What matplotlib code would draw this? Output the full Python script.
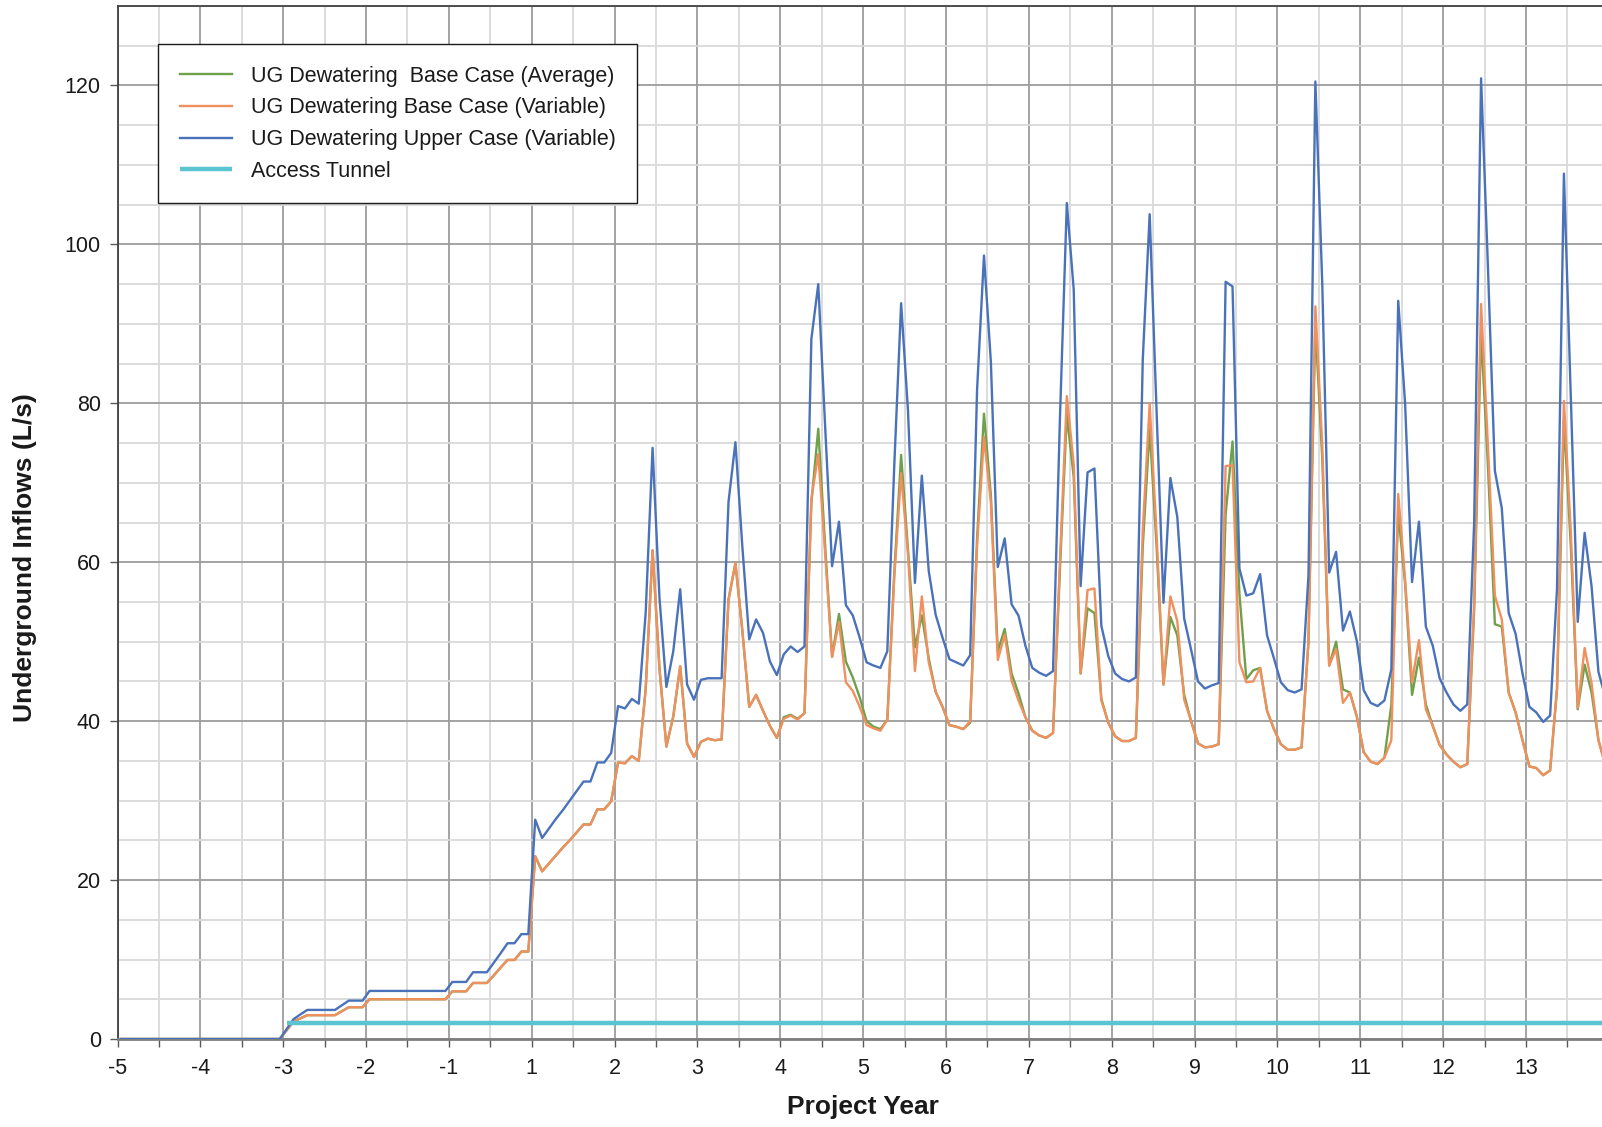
import numpy as np
import matplotlib
matplotlib.use("Agg")
import matplotlib.pyplot as plt
from matplotlib.ticker import MultipleLocator, FixedLocator

plt.rcParams['font.family'] = ['Liberation Sans', 'DejaVu Sans']

# ---- data (monthly values, month 0 = start of project year -5) ----
year_labels = ["-5", "-4", "-3", "-2", "-1", "1", "2", "3", "4", "5", "6",
               "7", "8", "9", "10", "11", "12", "13"]

upper_case = [
    0, 0, 0, 0, 0, 0, 0, 0, 0, 0, 0, 0,
    0, 0, 0, 0, 0, 0, 0, 0, 0, 0, 0, 0,
    1.25, 2.5, 3.1, 3.66, 3.66, 3.66, 3.66, 3.66, 4.25, 4.83, 4.83, 4.83,
    6.05, 6.05, 6.05, 6.05, 6.05, 6.05, 6.05, 6.05, 6.05, 6.05, 6.05, 6.05,
    7.18, 7.18, 7.18, 8.4, 8.4, 8.4, 9.6, 10.8, 12.05, 12.05, 13.2, 13.2,
    27.6, 25.3, 26.5, 27.7, 28.8, 30.0, 31.2, 32.4, 32.4, 34.8, 34.8, 36.0,
    41.9, 41.6, 42.8, 42.2, 53.6, 74.4, 55.5, 44.3, 48.8, 56.6, 44.6, 42.7,
    45.2, 45.4, 45.4, 45.4, 67.6, 75.1, 62.0, 50.3, 52.8, 51.1, 47.5, 45.8,
    48.4, 49.4, 48.7, 49.4, 88.1, 95.0, 77.0, 59.5, 65.1, 54.6, 53.3, 50.5,
    47.4, 47.0, 46.7, 48.8, 72.0, 92.6, 79.0, 57.4, 70.9, 58.9, 53.4, 50.5,
    47.8, 47.4, 47.0, 48.3, 81.7, 98.6, 85.2, 59.4, 63.0, 54.7, 53.3, 49.5,
    46.7, 46.1, 45.7, 46.3, 78.0, 105.2, 94.3, 57.0, 71.3, 71.8, 52.0, 48.2,
    46.0, 45.3, 45.0, 45.5, 85.5, 103.8, 79.0, 54.9, 70.6, 65.7, 52.9, 49.0,
    45.0, 44.1, 44.5, 44.8, 95.3, 94.7, 59.2, 55.8, 56.1, 58.5, 50.8, 47.9,
    44.9, 43.9, 43.6, 44.0, 58.3, 120.5, 95.0, 58.7, 61.3, 51.4, 53.8, 50.1,
    43.9, 42.3, 41.9, 42.6, 46.5, 92.9, 79.9, 57.5, 65.1, 51.9, 49.5, 45.4,
    43.6, 42.1, 41.3, 42.1, 65.0, 120.9, 97.0, 71.5, 66.8, 53.6, 51.0, 46.0,
    41.8, 41.1, 39.9, 40.7, 56.7, 108.9, 80.5, 52.5, 63.7, 57.0, 46.2, 43.0,
]

base_variable = [
    0, 0, 0, 0, 0, 0, 0, 0, 0, 0, 0, 0,
    0, 0, 0, 0, 0, 0, 0, 0, 0, 0, 0, 0,
    1.1, 2.2, 2.6, 3.0, 3.0, 3.0, 3.0, 3.0, 3.5, 4.0, 4.0, 4.0,
    5.0, 5.0, 5.0, 5.0, 5.0, 5.0, 5.0, 5.0, 5.0, 5.0, 5.0, 5.0,
    6.0, 6.0, 6.0, 7.05, 7.05, 7.05, 8.0, 9.0, 9.95, 9.95, 11.0, 11.0,
    23.0, 21.1, 22.1, 23.1, 24.1, 25.0, 26.0, 27.0, 27.0, 28.9, 28.9, 29.9,
    34.8, 34.7, 35.6, 35.0, 44.0, 61.5, 46.6, 36.8, 40.6, 46.9, 37.2, 35.5,
    37.4, 37.8, 37.6, 37.7, 55.3, 59.9, 51.4, 41.8, 43.3, 41.3, 39.4, 37.9,
    40.3, 40.7, 40.2, 41.0, 68.0, 73.6, 61.0, 48.1, 52.5, 44.9, 43.8, 41.8,
    39.5, 39.1, 38.8, 40.2, 58.0, 71.2, 60.9, 46.3, 55.7, 47.4, 43.7, 41.8,
    39.5, 39.3, 39.0, 40.0, 62.0, 75.8, 67.5, 47.7, 50.9, 45.1, 42.6, 40.5,
    38.8, 38.2, 37.9, 38.5, 60.0, 80.9, 72.3, 46.0, 56.5, 56.7, 42.6, 39.8,
    38.1, 37.5, 37.5, 37.9, 64.0, 79.9, 63.5, 44.6, 55.7, 52.6, 42.7, 40.0,
    37.2, 36.7, 36.8, 37.1, 72.1, 72.2, 47.4, 44.9, 45.0, 46.7, 41.3, 39.0,
    37.1, 36.4, 36.4, 36.7, 50.0, 92.2, 74.7, 47.0, 49.1, 42.3, 43.6, 40.6,
    36.1, 34.9, 34.6, 35.4, 37.6, 68.6, 57.8, 44.9, 50.2, 41.5, 39.4, 37.0,
    35.8, 34.9, 34.2, 34.6, 54.9, 92.5, 74.5, 55.8, 52.8, 43.6, 41.1, 37.6,
    34.3, 34.1, 33.2, 33.8, 44.2, 80.3, 63.8, 41.7, 49.2, 44.8, 37.6, 34.5,
]

base_average = [
    0, 0, 0, 0, 0, 0, 0, 0, 0, 0, 0, 0,
    0, 0, 0, 0, 0, 0, 0, 0, 0, 0, 0, 0,
    1.1, 2.2, 2.6, 3.0, 3.0, 3.0, 3.0, 3.0, 3.5, 4.0, 4.0, 4.0,
    5.0, 5.0, 5.0, 5.0, 5.0, 5.0, 5.0, 5.0, 5.0, 5.0, 5.0, 5.0,
    6.0, 6.0, 6.0, 7.05, 7.05, 7.05, 8.0, 9.0, 9.95, 9.95, 11.0, 11.0,
    23.0, 21.1, 22.1, 23.1, 24.1, 25.0, 26.0, 27.0, 27.0, 28.9, 28.9, 29.9,
    34.8, 34.7, 35.6, 35.0, 44.0, 61.5, 46.6, 36.8, 40.6, 46.9, 37.2, 35.5,
    37.4, 37.8, 37.6, 37.7, 55.3, 59.9, 51.4, 41.8, 43.3, 41.3, 39.4, 37.9,
    40.5, 40.8, 40.3, 41.0, 67.5, 76.8, 62.0, 48.1, 53.5, 47.5, 45.5, 43.0,
    40.0, 39.3, 39.0, 40.2, 58.5, 73.5, 61.5, 49.3, 53.3, 47.9, 43.7, 41.8,
    39.5, 39.3, 39.0, 39.8, 63.0, 78.7, 68.4, 48.8, 51.6, 46.0, 43.5, 40.5,
    38.8, 38.2, 37.9, 38.5, 59.0, 78.6, 70.7, 46.0, 54.2, 53.6, 42.8, 39.8,
    38.1, 37.5, 37.5, 37.9, 62.0, 76.8, 62.0, 44.6, 53.1, 50.8, 43.3, 40.0,
    37.2, 36.7, 36.8, 37.1, 66.0, 75.2, 56.0, 45.3, 46.4, 46.7, 41.3, 39.0,
    37.1, 36.4, 36.4, 36.7, 50.0, 90.0, 73.0, 47.0, 50.0, 44.0, 43.6, 40.6,
    36.1, 34.9, 34.6, 35.4, 42.0, 66.2, 57.3, 43.3, 48.0, 42.1, 39.4, 37.0,
    35.8, 34.9, 34.2, 34.6, 54.0, 89.0, 72.0, 52.2, 51.9, 43.6, 41.1, 37.6,
    34.3, 34.1, 33.2, 33.8, 44.0, 78.0, 62.0, 41.5, 47.1, 43.6, 37.6, 34.5,
]

tunnel_start_month = 24
tunnel_value = 2.0

# ---- plotting ----
W, H = 1602, 1127
fig = plt.figure(figsize=(W / 100, H / 100), dpi=100)
ax_left, ax_right = 117.5, 1602.0
ax_top, ax_bot = 6.0, 1039.0
ax = fig.add_axes([ax_left / W, 1 - ax_bot / H, (ax_right - ax_left) / W, (ax_bot - ax_top) / H])

months = np.arange(len(upper_case))
x = (months + 0.5) / 12.0
tunnel_x = x[tunnel_start_month:]
tunnel_y = [tunnel_value] * len(tunnel_x)

c_green = "#6FA04B"
c_orange = "#F0905E"
c_blue = "#4A72BA"
c_cyan = "#5BC4D0"

ax.plot(x, base_average, color=c_green, lw=1.7, label="UG Dewatering  Base Case (Average)", zorder=3)
ax.plot(x, base_variable, color=c_orange, lw=1.7, label="UG Dewatering Base Case (Variable)", zorder=4)
ax.plot(x, upper_case, color=c_blue, lw=1.7, label="UG Dewatering Upper Case (Variable)", zorder=5)
ax.plot(tunnel_x, tunnel_y, color=c_cyan, lw=3.2, label="Access Tunnel", zorder=6, solid_capstyle='butt')

ax.set_xlim(0, (ax_right - ax_left) / 82.85)
ax.set_ylim(0, 130)

ax.xaxis.set_major_locator(FixedLocator(np.arange(len(year_labels))))
ax.set_xticklabels(year_labels)
ax.xaxis.set_minor_locator(MultipleLocator(0.5))
ax.yaxis.set_major_locator(FixedLocator(np.arange(0, 121, 20)))
ax.yaxis.set_minor_locator(MultipleLocator(5))

ax.grid(which='major', color='#9C9C9C', lw=1.3, zorder=1)
ax.grid(which='minor', color='#D9D9D9', lw=1.3, zorder=0)
ax.set_axisbelow(True)

ax.tick_params(axis='both', which='major', labelsize=15.5, colors='#595959',
               labelcolor='#1a1a1a', length=6, width=1)
ax.tick_params(axis='x', which='minor', length=6, width=1, colors='#595959')
ax.tick_params(axis='y', which='minor', length=0)
ax.tick_params(axis='x', which='major', pad=8)
ax.tick_params(axis='y', which='major', pad=6)

for side in ['left', 'top']:
    ax.spines[side].set_color('#404040')
    ax.spines[side].set_linewidth(1.3)
ax.spines['bottom'].set_color('#7F7F7F')
ax.spines['bottom'].set_linewidth(2.0)
ax.spines['right'].set_visible(False)

ax.set_xlabel("Project Year", fontsize=19, fontweight='bold', color='#1a1a1a', va='center')
ax.set_ylabel("Underground Inflows (L/s)", fontsize=19, fontweight='bold', color='#1a1a1a', va='center')
ax.xaxis.set_label_coords((863 - ax_left) / (ax_right - ax_left), (ax_bot - 1107) / (ax_bot - ax_top))
ax.yaxis.set_label_coords((25.5 - ax_left) / (ax_right - ax_left), (ax_bot - 558) / (ax_bot - ax_top))

leg = ax.legend(loc='upper left', bbox_to_anchor=(158 / W, 1 - 44 / H),
                bbox_transform=fig.transFigure, fontsize=15.5, frameon=True,
                fancybox=False, edgecolor='#1a1a1a', framealpha=1,
                handlelength=2.45, handletextpad=0.85, borderpad=1.0,
                labelspacing=0.5, borderaxespad=0)
leg.get_frame().set_linewidth(1.0)
for t in leg.get_texts():
    t.set_color('#1a1a1a')

fig.savefig("out.png", dpi=100)
